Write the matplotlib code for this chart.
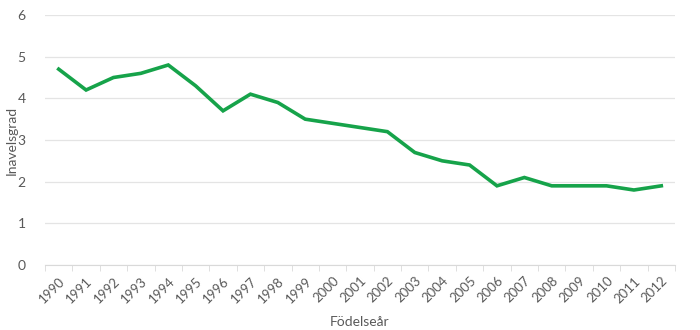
import numpy as np
import matplotlib
matplotlib.use("Agg")
import matplotlib.pyplot as plt

plt.rcParams['font.family'] = ['Lato', 'DejaVu Sans']

years = [str(y) for y in range(1990, 2013)]
inavel = [4.7, 4.2, 4.5, 4.6, 4.8, 4.3, 3.7, 4.1, 3.9, 3.5, 3.4, 3.3,
          3.2, 2.7, 2.5, 2.4, 1.9, 2.1, 1.9, 1.9, 1.9, 1.8, 1.9]

txt = "#595959"
grid = "#e4e4e4"

fig = plt.figure(figsize=(7, 3.3), dpi=100)
ax = fig.add_axes([45/700, 65/330, 630/700, 250/330])

x = np.arange(len(years))
ax.plot(x, inavel, color="#16a34a", lw=2.6, solid_joinstyle="miter")

ax.set_xlim(-0.5, len(years) - 0.5)
ax.set_ylim(0, 6)
ax.set_yticks(range(7))
ax.yaxis.grid(True, color=grid, lw=0.9)
ax.set_axisbelow(True)

ax.set_xticks(x)
ax.set_xticklabels(years, rotation=45, ha="right", rotation_mode="anchor")
ax.set_xticks(np.arange(-0.5, len(years)), minor=True)
ax.tick_params(axis="x", which="major", length=0, pad=7, labelsize=9.5, labelcolor=txt)
ax.tick_params(axis="x", which="minor", length=4, color="#d9d9d9")
ax.tick_params(axis="y", length=0, pad=14, labelsize=10, labelcolor=txt)

for s in ["top", "right", "left"]:
    ax.spines[s].set_visible(False)
ax.spines["bottom"].set_color("#d9d9d9")

ax.set_xlabel("Födelseår", color=txt, fontsize=10, labelpad=8)
ax.set_ylabel("Inavelsgrad", color=txt, fontsize=10)
ax.yaxis.set_label_coords(-0.043, 0.5)

fig.savefig("out.png", dpi=100)
